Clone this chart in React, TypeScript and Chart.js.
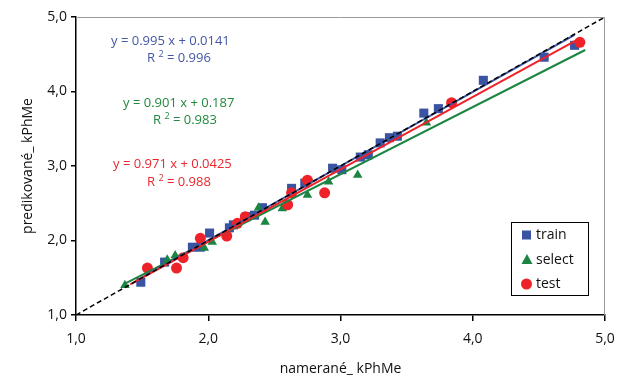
import React, { useEffect, useRef } from 'react';
import { Chart, registerables } from 'chart.js';
Chart.register(...registerables);

const tickLabels = ['1,0', '2,0', '3,0', '4,0', '5,0'];

const trainX = [1.49, 1.67, 1.88, 1.94, 2.01, 2.16, 2.19, 2.29, 2.35, 2.41, 2.63, 2.73, 2.94, 3.01, 3.15, 3.21, 3.30, 3.37, 3.43, 3.63, 3.74, 4.08, 4.54, 4.77];
const trainY = [1.44, 1.71, 1.91, 1.91, 2.10, 2.17, 2.21, 2.32, 2.34, 2.44, 2.70, 2.77, 2.97, 2.95, 3.12, 3.15, 3.31, 3.38, 3.40, 3.71, 3.77, 4.15, 4.46, 4.62];

const selectX = [1.37, 1.69, 1.75, 1.97, 2.03, 2.38, 2.43, 2.56, 2.75, 2.91, 3.13, 3.65];
const selectY = [1.40, 1.74, 1.80, 1.90, 1.98, 2.44, 2.25, 2.43, 2.61, 2.79, 2.88, 3.58];

const testX = [1.54, 1.76, 1.81, 1.94, 2.14, 2.22, 2.28, 2.60, 2.63, 2.75, 2.88, 3.84, 4.81];
const testY = [1.63, 1.63, 1.77, 2.03, 2.06, 2.23, 2.32, 2.48, 2.64, 2.81, 2.64, 3.85, 4.66];

const seriesNames = ['train', 'select', 'test'];
const slopes = [0.995, 0.901, 0.971];
const intercepts = [0.0141, 0.187, 0.0425];
const r2 = ['0.996', '0.983', '0.988'];
const trendFrom = [1.49, 1.37, 1.41];
const trendTo = [4.77, 4.85, 4.81];
const identity = [1, 5];

const BLUE = '#3a54a4';
const GREEN = '#1b8541';
const RED = '#ee2329';
const TXT_BLUE = '#4257a3';
const TXT_GREEN = '#21883c';
const TXT_RED = '#e8282e';
const FONT = "'Open Sans', 'DejaVu Sans', sans-serif";

const pts = (xs: number[], ys: number[]) => xs.map((x, i) => ({ x, y: ys[i] }));
const trend = (i: number) => [trendFrom[i], trendTo[i]].map((x) => ({ x, y: slopes[i] * x + intercepts[i] }));

const overlayPlugin = {
  id: 'overlay',
  afterDatasetsDraw(chart: any) {
    const { ctx, chartArea } = chart;
    ctx.save();
    ctx.strokeStyle = '#9a9a9a';
    ctx.lineWidth = 1;
    ctx.beginPath();
    ctx.moveTo(chartArea.left, chartArea.top + 0.5);
    ctx.lineTo(chartArea.right - 0.5, chartArea.top + 0.5);
    ctx.lineTo(chartArea.right - 0.5, chartArea.bottom);
    ctx.stroke();

    const eqs = [
      { c: TXT_BLUE, x: 111, y: 41, rx: 147, ry: 58 },
      { c: TXT_GREEN, x: 123, y: 103, rx: 153, ry: 120 },
      { c: TXT_RED, x: 113, y: 164, rx: 147, ry: 182 },
    ];
    ctx.textBaseline = 'middle';
    ctx.textAlign = 'left';
    eqs.forEach((e, i) => {
      ctx.fillStyle = e.c;
      ctx.font = `13px ${FONT}`;
      ctx.fillText(`y = ${slopes[i]} x + ${intercepts[i]}`, e.x, e.y);
      ctx.fillText('R', e.rx, e.ry);
      const w = ctx.measureText('R ').width;
      ctx.font = `9px ${FONT}`;
      ctx.fillText('2', e.rx + w, e.ry - 4);
      const w2 = ctx.measureText('2').width;
      ctx.font = `13px ${FONT}`;
      ctx.fillText(` = ${r2[i]}`, e.rx + w + w2, e.ry);
    });

    ctx.fillStyle = '#fff';
    ctx.fillRect(512, 223, 76, 73);
    ctx.strokeStyle = '#000';
    ctx.lineWidth = 1;
    ctx.strokeRect(511.5, 222.5, 77, 73);
    const ly = [235, 260, 284];
    ctx.fillStyle = BLUE;
    ctx.fillRect(522, ly[0] - 4.5, 9, 9);
    ctx.fillStyle = GREEN;
    ctx.beginPath();
    ctx.moveTo(527, ly[1] - 6);
    ctx.lineTo(532.5, ly[1] + 4);
    ctx.lineTo(521.5, ly[1] + 4);
    ctx.closePath();
    ctx.fill();
    ctx.fillStyle = RED;
    ctx.beginPath();
    ctx.arc(526.5, ly[2], 5.5, 0, Math.PI * 2);
    ctx.fill();
    ctx.fillStyle = '#111';
    ctx.font = `14px ${FONT}`;
    seriesNames.forEach((n, i) => ctx.fillText(n, 536, ly[i]));
    ctx.restore();
  },
};

export default function App() {
  const ref = useRef<HTMLCanvasElement>(null);
  useEffect(() => {
    if (!ref.current) return;
    const lineDs = (data: any[], color: string, order: number, dash: number[] = [], width = 2) => ({
      type: 'line' as const,
      data,
      borderColor: color,
      borderWidth: width,
      borderDash: dash,
      pointRadius: 0,
      showLine: true,
      fill: false,
      order,
    });
    const chart = new Chart(ref.current, {
      type: 'scatter',
      data: {
        datasets: [
          { label: 'train', data: pts(trainX, trainY), pointStyle: 'rect', pointRadius: 6.4, backgroundColor: BLUE, borderWidth: 0, order: 10 } as any,
          { label: 'select', data: pts(selectX, selectY), pointStyle: 'triangle', pointRadius: 5.5, backgroundColor: GREEN, borderWidth: 0, order: 9 } as any,
          { label: 'test', data: pts(testX, testY), pointStyle: 'circle', pointRadius: 5.5, backgroundColor: RED, borderWidth: 0, order: 8 } as any,
          lineDs(trend(1), GREEN, 5),
          lineDs(trend(0), BLUE, 4),
          lineDs(trend(2), RED, 3),
          lineDs(identity.map((v) => ({ x: v, y: v })), '#000', 1, [5, 3], 1.5),
        ],
      },
      options: {
        responsive: false,
        animation: false,
        layout: { padding: { top: 17, right: 15, left: 0, bottom: 0 } },
        plugins: { legend: { display: false }, tooltip: { enabled: false } },
        scales: {
          x: {
            type: 'linear',
            min: 1,
            max: 5,
            afterFit: (s: any) => { s.height = 63; s.paddingRight = 0; s.paddingLeft = 0; },
            ticks: {
              stepSize: 1,
              color: '#111',
              padding: 10,
              font: { family: FONT, size: 14 },
              callback: (v: any) => tickLabels[Math.round(Number(v)) - 1] ?? '',
            },
            grid: { drawOnChartArea: false, drawTicks: true, tickLength: 6, color: '#000', lineWidth: 1.5 },
            border: { color: '#000', width: 1.5 },
            title: { display: true, text: 'namerané_ kPhMe', color: '#111', font: { family: FONT, size: 14 }, padding: { top: 0, bottom: 1 } },
          },
          y: {
            type: 'linear',
            min: 1,
            max: 5,
            afterFit: (s: any) => { s.width = 76; s.paddingTop = 0; s.paddingBottom = 0; },
            ticks: {
              stepSize: 1,
              color: '#111',
              padding: 4,
              font: { family: FONT, size: 14 },
              callback: (v: any) => tickLabels[Math.round(Number(v)) - 1] ?? '',
            },
            grid: { drawOnChartArea: false, drawTicks: true, tickLength: 5, color: '#000', lineWidth: 1.5 },
            border: { color: '#000', width: 1.5 },
            title: { display: true, text: 'predikované_ kPhMe', color: '#111', font: { family: FONT, size: 14 }, padding: { top: 20, bottom: 0 } },
          },
        },
      },
      plugins: [overlayPlugin],
    });
    return () => chart.destroy();
  }, []);
  return (
    <div style={{ position: 'absolute', left: 0, top: 0, width: 620, height: 378, background: '#fff' }}>
      <canvas ref={ref} width={620} height={378} />
    </div>
  );
}
